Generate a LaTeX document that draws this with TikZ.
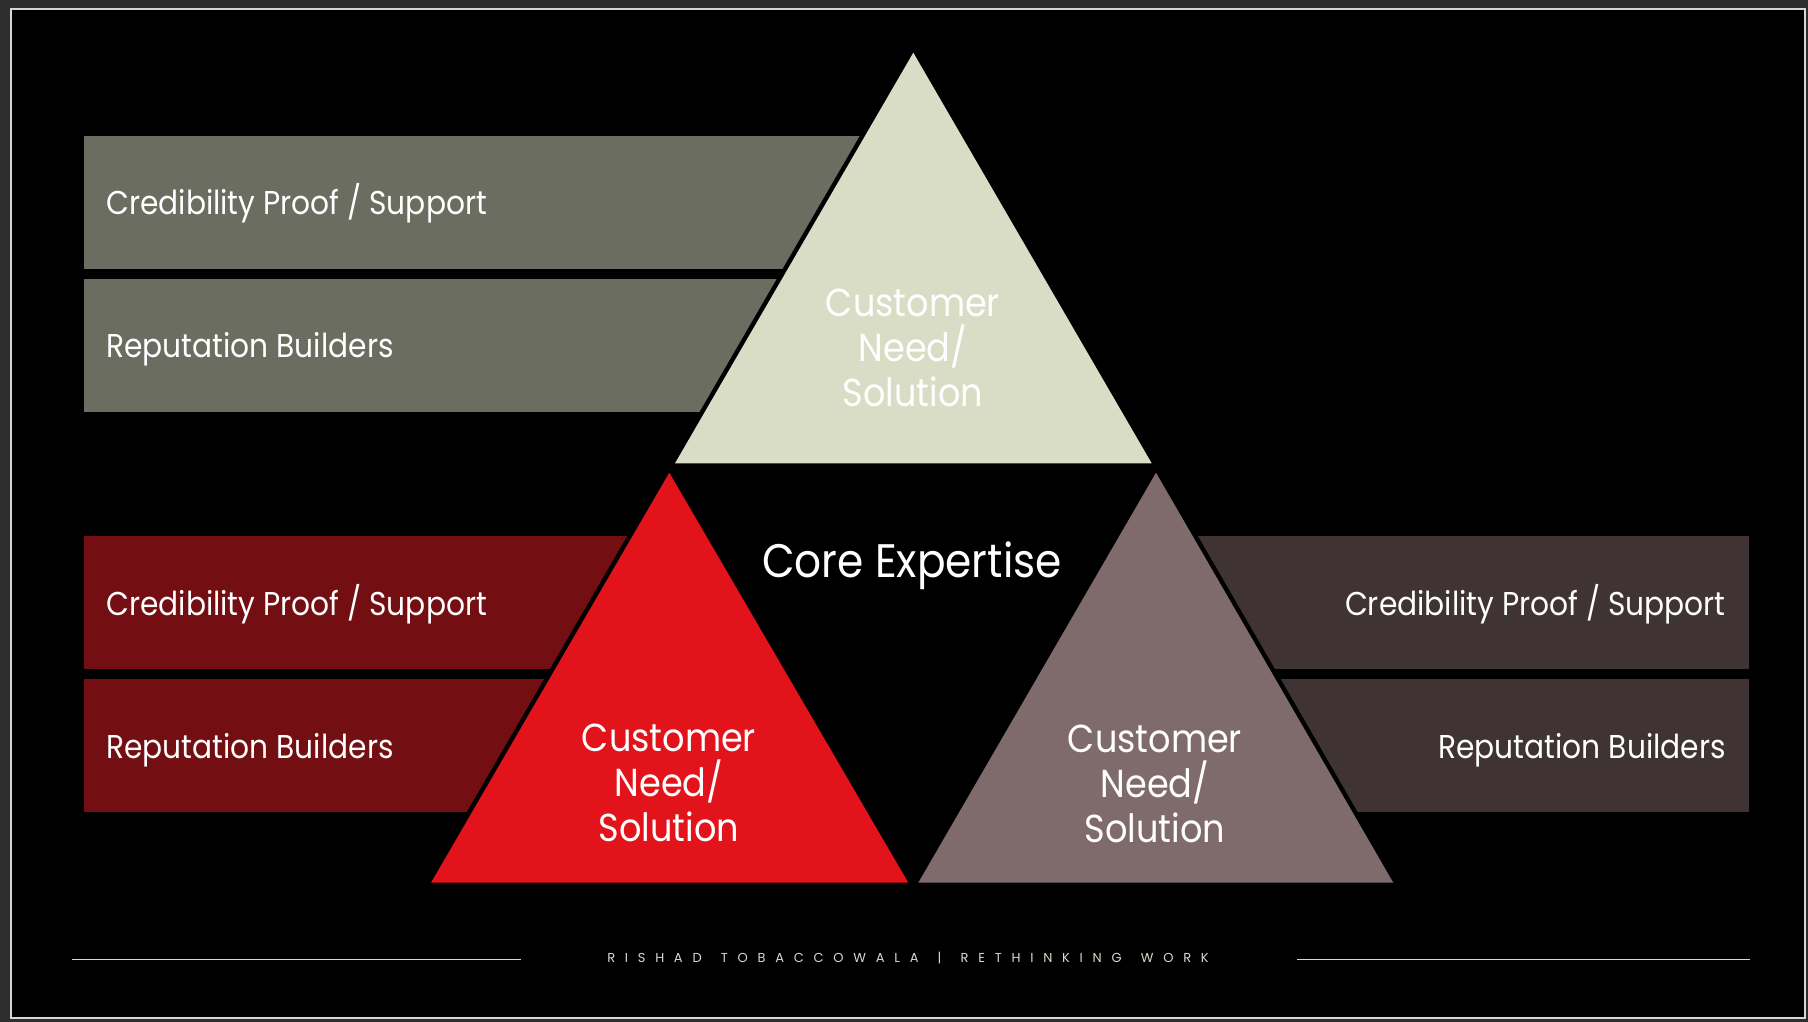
\documentclass[tikz,border=0pt]{standalone}
\usepackage{fontspec}
\setmainfont{Poppins}[FakeStretch=0.9]
\newfontfamily\footfont[LetterSpace=75]{Poppins}
\definecolor{outerbg}{HTML}{2E2E2E}
\definecolor{framec}{HTML}{D6D6D6}
\definecolor{grayboxc}{HTML}{6B6D60}
\definecolor{toptric}{HTML}{D9DDC5}
\definecolor{redboxc}{HTML}{730E12}
\definecolor{redtric}{HTML}{E3131B}
\definecolor{mauvetric}{HTML}{7F6B6B}
\definecolor{rightboxc}{HTML}{3F3333}
\definecolor{footc}{HTML}{D9D9C8}
\newcommand{\fsp}{\ \hspace{6pt}}
\begin{document}
\begin{tikzpicture}[x=1pt,y=-1pt,
  boxlabel/.style={text=white,font=\fontsize{33}{40}\selectfont,inner sep=0pt},
  trilabel/.style={text=white,font=\fontsize{39}{45}\selectfont,align=center,inner sep=0pt},
  gapline/.style={draw=black,line width=9pt,line join=miter},
  footline/.style={draw=footc,line width=1.3pt}]
% frame
\fill[outerbg] (0,0) rectangle (1808,1022);
\fill[framec] (10,8) rectangle (1806,1019.3);
\fill[black] (12,10) rectangle (1804,1017.3);
\useasboundingbox (0,0) rectangle (1808,1022);
% boxes
\fill[grayboxc] (84,136) rectangle (913,268.7);
\fill[grayboxc] (84,279) rectangle (913,411.7);
\fill[redboxc] (84,536.2) rectangle (669,668.8);
\fill[redboxc] (84,679.2) rectangle (669,811.8);
\fill[rightboxc] (1156,536.2) rectangle (1749.3,668.8);
\fill[rightboxc] (1156,679.2) rectangle (1749.3,811.8);
% triangles
\path[gapline] (913.3,52.7) -- (675,463.3) -- (1151.7,463.3) -- cycle;
\fill[toptric] (913.3,52.7) -- (675,463.3) -- (1151.7,463.3) -- cycle;
\path[gapline] (669.3,472.7) -- (431,882.7) -- (908.3,882.7) -- cycle;
\fill[redtric] (669.3,472.7) -- (431,882.7) -- (908.3,882.7) -- cycle;
\path[gapline] (1156,472.7) -- (918.3,882.7) -- (1393.3,882.7) -- cycle;
\fill[mauvetric] (1156,472.7) -- (918.3,882.7) -- (1393.3,882.7) -- cycle;
% box labels
\node[boxlabel,anchor=base west] (g1) at (106,214.9) {Credibility Proof / Support};
\node[boxlabel,anchor=base west] (g2) at (106,357.8) {Reputation Builders};
\node[boxlabel,anchor=base west] (r1) at (106,615) {Credibility Proof / Support};
\node[boxlabel,anchor=base west] (r2) at (106,758) {Reputation Builders};
\node[boxlabel,anchor=base east] (m1) at (1726,615) {Credibility Proof / Support};
\node[boxlabel,anchor=base east] (m2) at (1726,758) {Reputation Builders};
% triangle labels
\node[trilabel] (t1) at (913,348) {Customer\\Need/\\Solution};
\node[trilabel] (t2) at (669,783) {Customer\\Need/\\Solution};
\node[trilabel] (t3) at (1155,784) {Customer\\Need/\\Solution};
\node[text=white,font=\fontsize{47}{52}\selectfont,inner sep=0pt] (core) at (912,566) {Core Expertise};
% footer
\draw[footline] (71.5,959.3) -- (521,959.3);
\draw[footline] (1297,959.3) -- (1750,959.3);
\node[text=footc,font=\footfont\fontsize{13}{15}\selectfont,inner sep=0pt] (foot) at (908,958) {RISHAD\fsp TOBACCOWALA\fsp |\fsp RETHINKING\fsp WORK};
\end{tikzpicture}
\end{document}
